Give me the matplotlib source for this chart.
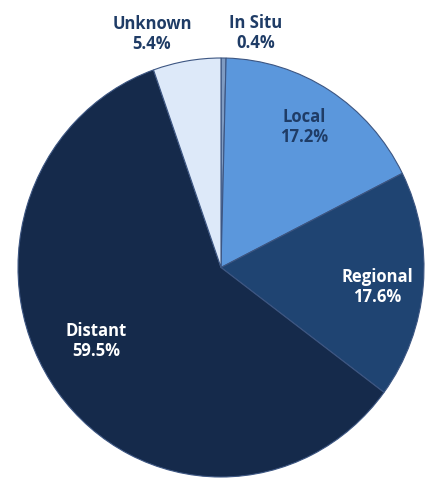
import matplotlib
matplotlib.use("Agg")
import matplotlib.pyplot as plt

labels = ["In Situ", "Local", "Regional", "Distant", "Unknown"]
values = [0.4, 17.2, 17.6, 59.5, 5.4]
colors = ["#7f9bc2", "#5b97dc", "#1f4472", "#152a4b", "#dde9f9"]

W, H = 433, 480
fig = plt.figure(figsize=(W / 100, H / 100), dpi=100)
# pie bounds in pixels: x 18..424, y 58..477 (from top)
x0, x1, yt, yb = 18, 424, 58, 477
ax = fig.add_axes([x0 / W, 1 - yb / H, (x1 - x0) / W, (yb - yt) / H])
wedges, _ = ax.pie(values, colors=colors, startangle=90, counterclock=False,
                   radius=1.0, wedgeprops=dict(edgecolor="#3d5682", linewidth=0.8))
ax.set_aspect("auto")
ax.set_xlim(-1, 1)
ax.set_ylim(-1, 1)
ax.axis("off")

txt = "#1f3c66"
font = dict(family=["Open Sans", "DejaVu Sans"], fontweight="bold", fontsize=12,
            ha="center", va="center", linespacing=1.2)
pos = {
    "Unknown": (152, 34, txt),
    "In Situ": (256, 33, txt),
    "Local": (304, 127, txt),
    "Regional": (377, 287, "white"),
    "Distant": (96, 341, "white"),
}
for lab, val in zip(labels, values):
    px, py, c = pos[lab]
    fig.text(px / W, 1 - py / H, f"{lab}\n{val}%", color=c, **font)

fig.savefig("out.png", dpi=100)
